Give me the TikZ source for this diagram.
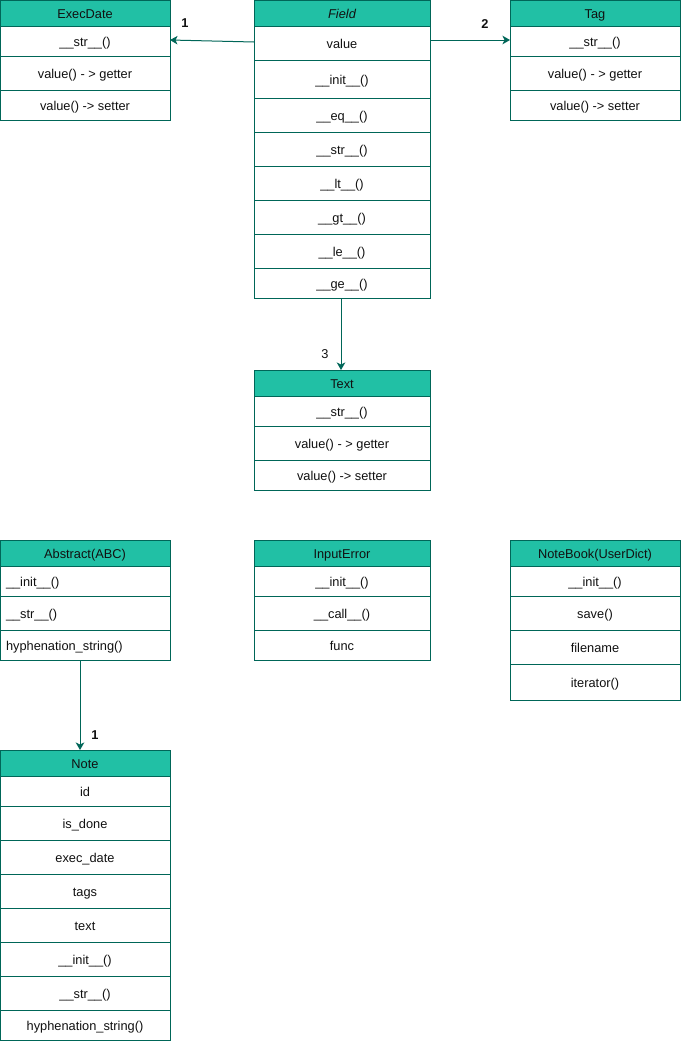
\documentclass[tikz,border=0pt]{standalone}
\usepackage{fontspec}
\setmainfont{Liberation Sans}
\usetikzlibrary{arrows.meta}
\definecolor{headfill}{HTML}{21C0A5}
\definecolor{strokec}{HTML}{006658}
\definecolor{txtc}{HTML}{111111}
\newcommand{\urow}[7]{\node[#1, minimum width=#4pt, minimum height=#6pt, anchor=north west] (#2) at (#3,#5) {#7};}
\begin{document}
\begin{tikzpicture}[x=1pt,y=-1pt,
  font=\fontsize{12.8}{14}\selectfont,
  base/.style={draw=strokec, line width=1pt, inner sep=0pt, outer sep=0pt, text=txtc, text height=12pt, text depth=2pt},
  headbox/.style={base, fill=headfill},
  rowbox/.style={base, fill=white},
  leftrow/.style={base, fill=white, align=left, inner xsep=6pt},
  conn/.style={draw=strokec, line width=1pt, -{Stealth[length=7.5pt,width=8.5pt,inset=2pt]}},
  lbl/.style={text=txtc, inner sep=0pt},
  lblb/.style={text=txtc, inner sep=0pt, font=\fontsize{12.8}{14}\selectfont\bfseries}]
\useasboundingbox (0,0) rectangle (681,1044);
\fill[white] (0,0) rectangle (681,1044);

% ExecDate
\urow{headbox}{ed-h}{0}{170}{0}{26}{ExecDate}
\urow{rowbox}{ed-str}{0}{170}{26}{30}{\_\_str\_\_()}
\urow{rowbox}{ed-get}{0}{170}{56}{34}{value() - > getter}
\urow{rowbox}{ed-set}{0}{170}{90}{30}{value() -> setter}

% Tag
\urow{headbox}{tag-h}{510}{170}{0}{26}{Tag}
\urow{rowbox}{tag-str}{510}{170}{26}{30}{\_\_str\_\_()}
\urow{rowbox}{tag-get}{510}{170}{56}{34}{value() - > getter}
\urow{rowbox}{tag-set}{510}{170}{90}{30}{value() -> setter}

% Field
\urow{headbox}{f-h}{254}{176}{0}{26}{\itshape Field}
\urow{rowbox}{f-value}{254}{176}{26}{34}{value}
\urow{rowbox}{f-init}{254}{176}{60}{38}{\_\_init\_\_()}
\urow{rowbox}{f-eq}{254}{176}{98}{34}{\_\_eq\_\_()}
\urow{rowbox}{f-str}{254}{176}{132}{34}{\_\_str\_\_()}
\urow{rowbox}{f-lt}{254}{176}{166}{34}{\_\_lt\_\_()}
\urow{rowbox}{f-gt}{254}{176}{200}{34}{\_\_gt\_\_()}
\urow{rowbox}{f-le}{254}{176}{234}{34}{\_\_le\_\_()}
\urow{rowbox}{f-ge}{254}{176}{268}{30}{\_\_ge\_\_()}

% Text
\urow{headbox}{t-h}{254}{176}{370}{26}{Text}
\urow{rowbox}{t-str}{254}{176}{396}{30}{\_\_str\_\_()}
\urow{rowbox}{t-get}{254}{176}{426}{34}{value() - > getter}
\urow{rowbox}{t-set}{254}{176}{460}{30}{value() -> setter}

% Abstract
\urow{headbox}{a-h}{0}{170}{540}{26}{Abstract(ABC)}
\urow{leftrow}{a-init}{0}{170}{566}{30}{\makebox[158pt][l]{\_\_init\_\_()}}
\urow{leftrow}{a-str}{0}{170}{596}{34}{\makebox[158pt][l]{\_\_str\_\_()}}
\urow{leftrow}{a-hyph}{0}{170}{630}{30}{\makebox[158pt][l]{hyphenation\_string()}}

% InputError
\urow{headbox}{ie-h}{254}{176}{540}{26}{InputError}
\urow{rowbox}{ie-init}{254}{176}{566}{30}{\_\_init\_\_()}
\urow{rowbox}{ie-call}{254}{176}{596}{34}{\_\_call\_\_()}
\urow{rowbox}{ie-func}{254}{176}{630}{30}{func}

% NoteBook
\urow{headbox}{nb-h}{510}{170}{540}{26}{NoteBook(UserDict)}
\urow{rowbox}{nb-init}{510}{170}{566}{30}{\_\_init\_\_()}
\urow{rowbox}{nb-save}{510}{170}{596}{34}{save()}
\urow{rowbox}{nb-file}{510}{170}{630}{34}{filename}
\urow{rowbox}{nb-iter}{510}{170}{664}{36}{iterator()}

% Note
\urow{headbox}{n-h}{0}{170}{750}{26}{Note}
\urow{rowbox}{n-id}{0}{170}{776}{30}{id}
\urow{rowbox}{n-done}{0}{170}{806}{34}{is\_done}
\urow{rowbox}{n-date}{0}{170}{840}{34}{exec\_date}
\urow{rowbox}{n-tags}{0}{170}{874}{34}{tags}
\urow{rowbox}{n-text}{0}{170}{908}{34}{text}
\urow{rowbox}{n-init}{0}{170}{942}{34}{\_\_init\_\_()}
\urow{rowbox}{n-str}{0}{170}{976}{34}{\_\_str\_\_()}
\urow{rowbox}{n-hyph}{0}{170}{1010}{30}{hyphenation\_string()}

% connectors
\draw[conn] ([yshift=1pt]f-value.west) -- ([yshift=1pt]ed-str.east);
\draw[conn] ([yshift=1pt]f-value.east |- tag-str.west) -- ([yshift=1pt]tag-str.west);
\draw[conn] ([xshift=-1pt]f-ge.south) -- ([xshift=-1pt]t-h.north);
\draw[conn] ([xshift=-5pt]a-hyph.south) -- ([xshift=-5pt]n-h.north);

% labels
\node[lblb] (l1) at (185,23) {1};
\node[lblb] (l2) at (485,24) {2};
\node[lbl] (l3) at (325,354) {3};
\node[lblb] (l4) at (95,735) {1};
\end{tikzpicture}
\end{document}
